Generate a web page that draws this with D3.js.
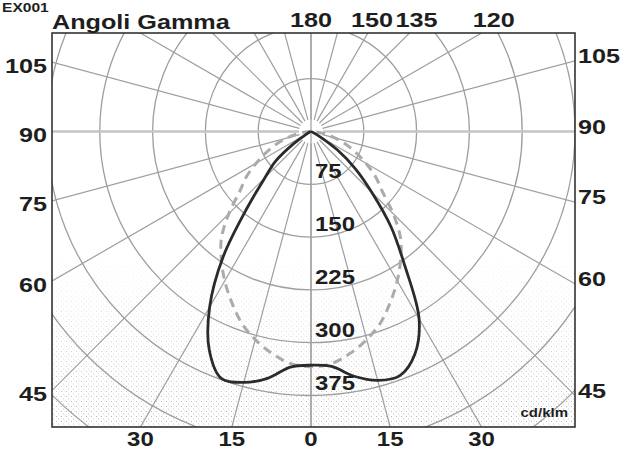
<!DOCTYPE html>
<html><head><meta charset="utf-8">
<script src="https://cdn.jsdelivr.net/npm/d3@7"></script>
<style>body{margin:0;background:#fff}svg{display:block}</style>
</head><body>
<svg id="c" width="621" height="450"></svg>
<script>
// ---- data ----
const gammaAngles = [0,5,10,15,20,25,30,35,40,45,50,55,60,65,70,75,80,85,90];
// solid curve (right side, C0) cd/klm
const solidRight = [332,335,353,366,369,349,307,232,177,122,82,46,15,4,0,0,0,0,0];
// solid curve (left side, C180)
const solidLeft  = [332,336,356,369,373,342,288,218,140,92,66,30,8,2,0,0,0,0,0];
// dashed curve (C90 / C270)
const dashedVals = [334,331,320,306,289,267,245,222,198,165,132,112,90,70,52,35,20,8,0];
const ringValues = [75,150,225,300,375,450,525];
const ringLabels = ["75","150","225","300","375"];
const leftTicks  = [105,90,75,60,45];
const rightTicks = [105,90,75,60,45];
const topTicks   = [180,150,135,120];
const bottomTicks = [{g:30,s:-1},{g:15,s:-1},{g:0,s:1},{g:15,s:1},{g:30,s:1}];
const headText = "EX001";
const titleText = "Angoli Gamma";
const unitText = "cd/klm";

// ---- layout ----
const svg = d3.select("#c");
const box = {x0:52, y0:33, x1:575, y1:427};
const cx = 311, cy = 131.5;
const r = d3.scaleLinear().domain([0,375]).range([0,264]);
const rad = d => d*Math.PI/180;
const pt = (g, v, s) => [cx + s*r(v)*Math.sin(rad(g)), cy + r(v)*Math.cos(rad(g))];
const FONT = "'Liberation Sans', Arial, sans-serif";
const SX = 1.2;
const gridCol = "#9e9e9e";

const defs = svg.append("defs");
defs.append("clipPath").attr("id","clip").append("rect")
  .attr("x",box.x0).attr("y",box.y0).attr("width",box.x1-box.x0).attr("height",box.y1-box.y0);
const pat = defs.append("pattern").attr("id","stip").attr("patternUnits","userSpaceOnUse")
  .attr("width",5).attr("height",5);
pat.append("rect").attr("x",1).attr("y",1).attr("width",1).attr("height",1).attr("fill","#a6a6a6");
pat.append("rect").attr("x",3).attr("y",3.5).attr("width",1).attr("height",1).attr("fill","#bcbcbc");
pat.append("rect").attr("x",4).attr("y",0.5).attr("width",0.8).attr("height",0.8).attr("fill","#cccccc");
const lg = defs.append("linearGradient").attr("id","fadeG").attr("gradientUnits","userSpaceOnUse")
  .attr("x1",0).attr("y1",250).attr("x2",0).attr("y2",box.y1);
lg.append("stop").attr("offset",0).attr("stop-color","#fff").attr("stop-opacity",0);
lg.append("stop").attr("offset",1).attr("stop-color","#fff").attr("stop-opacity",0.85);
defs.append("mask").attr("id","fadeM").append("rect")
  .attr("x",box.x0).attr("y",box.y0).attr("width",box.x1-box.x0).attr("height",box.y1-box.y0)
  .attr("fill","url(#fadeG)");

const plot = svg.append("g").attr("clip-path","url(#clip)");
plot.append("rect").attr("x",box.x0).attr("y",box.y0).attr("width",box.x1-box.x0).attr("height",box.y1-box.y0)
  .attr("fill","url(#stip)").attr("mask","url(#fadeM)");

// circles
plot.selectAll("circle.ring").data(ringValues).join("circle")
  .attr("cx",cx).attr("cy",cy).attr("r",d=>r(d))
  .attr("fill","none").attr("stroke",gridCol).attr("stroke-width",1.3);

// radial lines every 15 deg
const spokes = d3.range(0,360,15);
plot.selectAll("line.spoke").data(spokes).join("line")
  .attr("x1",d=>cx+12*Math.sin(rad(d))).attr("y1",d=>cy+12*Math.cos(rad(d)))
  .attr("x2",d=>cx+700*Math.sin(rad(d))).attr("y2",d=>cy+700*Math.cos(rad(d)))
  .attr("stroke",d=> (d===90||d===270) ? "#c4c4c4" : gridCol)
  .attr("stroke-width",d=> (d===90||d===270) ? 2.4 : 1.2);
// full vertical axis
plot.append("line").attr("x1",cx).attr("x2",cx).attr("y1",box.y0).attr("y2",box.y1)
  .attr("stroke",gridCol).attr("stroke-width",1.2);

// curves
function curvePoints(left, right){
  const pts = [];
  let lastL = gammaAngles.findIndex((g,i)=>left[i]===0);
  let lastR = gammaAngles.findIndex((g,i)=>right[i]===0);
  if(lastL<0) lastL = gammaAngles.length-1;
  if(lastR<0) lastR = gammaAngles.length-1;
  for(let i=lastL;i>=0;i--) pts.push(pt(gammaAngles[i], left[i], -1));
  for(let i=1;i<=lastR;i++) pts.push(pt(gammaAngles[i], right[i], 1));
  return pts;
}
const line = d3.line().curve(d3.curveCatmullRom.alpha(0.5));
plot.append("path").attr("d", line(curvePoints(dashedVals, dashedVals)))
  .attr("fill","none").attr("stroke","#ababab").attr("stroke-width",3)
  .attr("stroke-dasharray","9,6").attr("stroke-linecap","butt");
plot.append("path").attr("d", line(curvePoints(solidLeft, solidRight)))
  .attr("fill","none").attr("stroke","#2b2b2b").attr("stroke-width",2.8)
  .attr("stroke-linejoin","round");

// border
svg.append("rect").attr("x",box.x0).attr("y",box.y0).attr("width",box.x1-box.x0).attr("height",box.y1-box.y0)
  .attr("fill","none").attr("stroke","#333").attr("stroke-width",1.6);

// text helper
function txt(x, y, s, anchor, size, weight){
  svg.append("text").attr("transform",`translate(${x},${y}) scale(${SX},1)`)
    .attr("text-anchor",anchor||"start").attr("font-family",FONT)
    .attr("font-size",size||21).attr("font-weight",weight||"bold").attr("fill","#1e1e1e")
    .text(s);
}
// heading (small, kept fully inside)
txt(2, 12, headText, "start", 13, "bold");
txt(box.x0, 29, titleText, "start", 21);

// ring labels
ringLabels.forEach((t,i)=> txt(315, cy + r(ringValues[i]) - 6, t, "start", 20));

// left ticks
leftTicks.forEach(g=>{
  const dx = cx - box.x0;
  const y = cy + dx*Math.cos(rad(g))/Math.sin(rad(g));
  txt(47, y + 10.5, String(g), "end", 21);
});
// right ticks
rightTicks.forEach(g=>{
  const dx = box.x1 - cx;
  const y = cy + dx*Math.cos(rad(g))/Math.sin(rad(g));
  txt(578, y + 2, String(g), "start", 21);
});
// top ticks
topTicks.forEach(g=>{
  const dy = cy - 26;
  const x = cx + dy*Math.tan(rad(180-g));
  txt(x, 27, String(g), "middle", 21);
});
// bottom ticks
bottomTicks.forEach(d=>{
  const dy = box.y1 - cy;
  const x = cx + d.s*dy*Math.tan(rad(d.g));
  txt(x, 445.5, String(d.g), "middle", 20);
});
// unit
txt(568, 417, unitText, "end", 12.5);
</script>
</body></html>
